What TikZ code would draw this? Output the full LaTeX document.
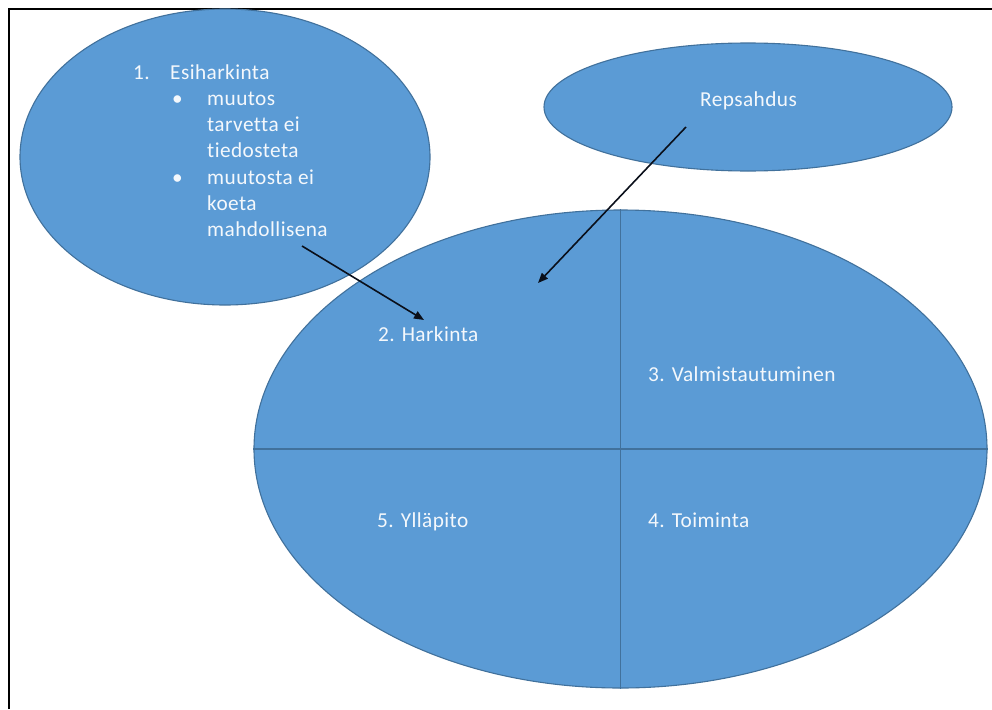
\documentclass[tikz,border=0pt]{standalone}
\usepackage{fontspec}
\setmainfont{Carlito}[Ligatures=NoCommon,LetterSpace=2]
\usetikzlibrary{shapes.geometric,arrows.meta}
\definecolor{stagefill}{HTML}{5B9BD5}
\definecolor{stageline}{HTML}{41719C}
\definecolor{stagetext}{HTML}{F4F8FC}
\definecolor{arrowink}{HTML}{0A0F1A}
\begin{document}
\begin{tikzpicture}[x=1pt,y=-1pt,
  stage/.style={ellipse,draw=stageline,fill=stagefill,line width=1.1pt,inner sep=0pt},
  label/.style={text=stagetext,font=\fontsize{21.3}{26}\selectfont,inner sep=0pt,anchor=base west},
  divider/.style={draw=stageline,line width=1.1pt},
  pointer/.style={draw=arrowink,line width=1.6pt,-{Triangle[length=10pt,width=8pt]}}]
\useasboundingbox (0,0) rectangle (992,709);
\fill[white] (0,0) rectangle (992,709);
% page frame: top and left edges only
\draw[line width=1.2pt] (9,709) -- (9,9) -- (992,9);

% the three ellipses
\node[stage,minimum width=410pt,minimum height=296pt] (pre) at (225,157) {};
\node[stage,minimum width=408pt,minimum height=128pt] (relapse) at (748,107) {};
\node[stage,minimum width=733pt,minimum height=478pt] (cycle) at (620.5,449) {};

% quarters of the cycle
\draw[divider] (cycle.north) -- (cycle.south);
\draw[divider] (cycle.west) -- (cycle.east);

% pre-contemplation list
\node[label] (n1) at (133,79) {1.};
\node[label] (e1) at (170,79) {Esiharkinta};
\node[label] (b1) at (172,105.5) {•};
\node[label] (l1) at (207,105.5) {muutos};
\node[label] (l2) at (207,131.5) {tarvetta ei};
\node[label] (l3) at (207,157.5) {tiedosteta};
\node[label] (b2) at (172,184) {•};
\node[label] (l4) at (207,184) {muutosta ei};
\node[label] (l5) at (207,210.5) {koeta};
\node[label] (l6) at (207,236.7) {mahdollisena};

\node[label,anchor=base] (rep) at (748.5,106) {Repsahdus};

% stage names
\node[label] (s2) at (378,341.5) {2. Harkinta};
\node[label] (s3) at (648,381.5) {3. Valmistautuminen};
\node[label] (s4) at (648,527) {4. Toiminta};
\node[label] (s5) at (377,527) {5. Ylläpito};

% arrows into the cycle
\coordinate (preout) at (302,246);
\coordinate (prein) at (424,320);
\coordinate (repout) at (686,127);
\coordinate (repin) at (538,283);
\draw[pointer] (preout) -- (prein);
\draw[pointer] (repout) -- (repin);
\end{tikzpicture}
\end{document}
